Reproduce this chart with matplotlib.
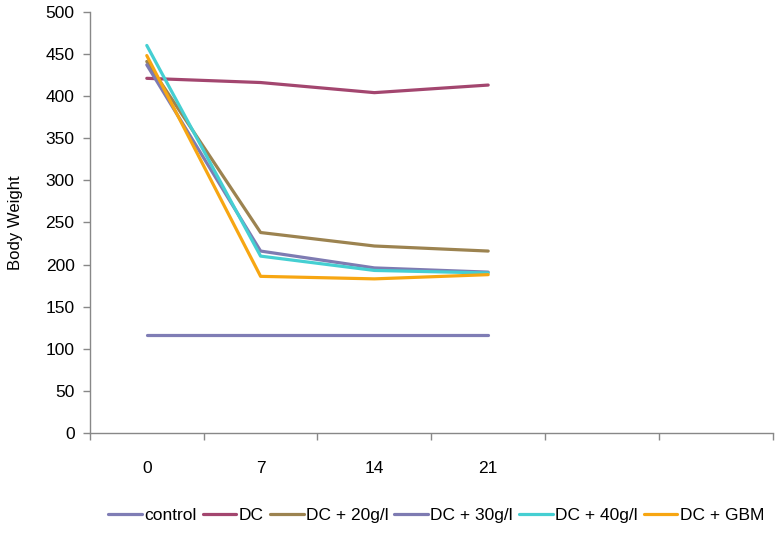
import matplotlib
matplotlib.use("Agg")
import matplotlib.pyplot as plt
import numpy as np

plt.rcParams['font.family'] = ['Liberation Sans', 'DejaVu Sans']

categories = ['0', '7', '14', '21', '', '']
days = ['0', '7', '14', '21']
control = [116, 116, 116, 116]
dc = [421, 416, 404, 413]
dc20 = [441, 238, 222, 216]
dc30 = [437, 216, 196, 191]
dc40 = [460, 210, 193, 190]
gbm = [448, 186, 183, 188]

series = [
    ('control', control, '#7f7db5'),
    ('DC', dc, '#a3466f'),
    ('DC + 20g/l', dc20, '#9c8350'),
    ('DC + 30g/l', dc30, '#7e7bb2'),
    ('DC + 40g/l', dc40, '#45cfd2'),
    ('DC + GBM', gbm, '#f7a612'),
]

fig = plt.figure(figsize=(7.75, 5.34), dpi=100)
ax = fig.add_axes([0.116, 0.189, 0.881, 0.789])

x = np.arange(len(days))
for name, vals, col in series:
    ax.plot(x, vals, color=col, lw=2.3, label=name, solid_capstyle='round')

ax.set_xlim(-0.5, len(categories) - 0.5)
ax.set_ylim(0, 500)
ax.set_yticks(np.arange(0, 501, 50))
ax.set_xticks(np.arange(len(categories)))
ax.set_xticklabels(categories)
ax.set_xticks(np.arange(-0.5, len(categories), 1), minor=True)
ax.tick_params(axis='x', which='major', length=0, pad=20, labelsize=12.5)
ax.tick_params(axis='x', which='minor', length=5, color='#888888', width=1)
ax.tick_params(axis='y', length=5, color='#888888', width=1, labelsize=12.5, pad=6)

for s in ['top', 'right']:
    ax.spines[s].set_visible(False)
for s in ['left', 'bottom']:
    ax.spines[s].set_color('#888888')
    ax.spines[s].set_linewidth(1)

ax.set_ylabel('Body Weight', fontsize=12, labelpad=16)

ax.legend(loc='center', bbox_to_anchor=(0.507, -0.195), ncol=6, frameon=False,
          fontsize=12.5, handlelength=1.95, handletextpad=0.12, columnspacing=0.35)

fig.savefig('out.png', dpi=100)
